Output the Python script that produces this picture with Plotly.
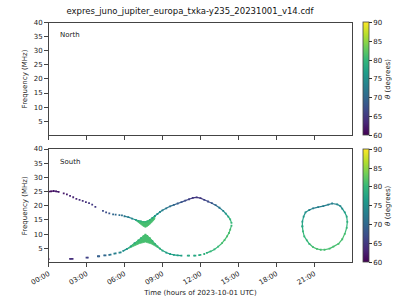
import plotly.graph_objects as go
from plotly.colors import sample_colorscale

TITLE = "expres_juno_jupiter_europa_txka-y235_20231001_v14.cdf"
XTICK_VALS = [0, 3, 6, 9, 12, 15, 18, 21]
XTICK_TEXT = ["00:00", "03:00", "06:00", "09:00", "12:00", "15:00", "18:00", "21:00"]
YTICK_VALS = [5, 10, 15, 20, 25, 30, 35, 40]
CB_TICKS = [60, 65, 70, 75, 80, 85, 90]
TH_MIN, TH_MAX = 60, 90

# South hemisphere emission (time in hours, frequency MHz, theta degrees)
# upper branch, continuous start
UP_A_T = [0.0, 0.2, 0.4, 0.6, 0.8]
UP_A_F = [25.0, 25.1, 25.2, 25.1, 24.9]
UP_A_TH = [61, 61, 62, 62, 62]
# upper branch, dotted part
UP_B_T = [1.2, 1.45, 1.7, 1.95, 2.2, 2.45, 2.7, 2.95, 3.2, 3.45, 3.7, 4.3, 4.55, 4.8, 5.1, 5.3, 5.6, 5.8]
UP_B_F = [24.4, 24.0, 23.5, 23.0, 22.4, 22.1, 21.7, 21.3, 20.9, 20.4, 19.6, 18.2, 17.7, 17.3, 17.0, 16.9, 16.7, 16.6]
UP_B_TH = [62, 62, 63, 63, 63, 64, 64, 64, 65, 65, 65, 67, 67, 68, 70, 70, 71, 71]
# upper branch, continuous part
UP_C_T = [6.0, 6.3, 6.6, 6.9, 7.1, 7.3, 7.5, 7.65, 7.8, 8.0, 8.2, 8.4, 8.6, 8.8, 9.0, 9.3, 9.6, 9.9,
          10.2, 10.5, 10.8, 11.1, 11.4, 11.7, 12.0, 12.3, 12.6, 12.9, 13.2, 13.5, 13.8, 14.0, 14.2, 14.35, 14.45]
UP_C_F = [16.3, 16.0, 15.5, 15.0, 14.7, 14.5, 14.3, 14.3, 14.5, 15.0, 15.7, 16.4, 17.1, 17.8, 18.4, 19.1, 19.8, 20.3,
          20.8, 21.3, 21.8, 22.3, 22.8, 22.95, 22.7, 22.1, 21.5, 20.9, 20.2, 19.3, 18.2, 17.2, 16.2, 15.2, 14.0]
UP_C_TH = [72, 73, 74, 76, 78, 79, 80, 80, 80, 79, 77, 76, 75, 74, 73, 72, 71, 70,
           69, 68, 67, 66, 65, 65, 65, 66, 67, 68, 70, 72, 74, 76, 78, 80, 80]
# lower edge of the upper pinch band
UP_BAND_T = [6.9, 7.2, 7.5, 7.65, 7.8, 8.1, 8.4]
UP_BAND_F = [14.8, 13.6, 12.7, 12.4, 12.7, 13.8, 15.3]
UP_BAND_TH = 81

# lower branch, dashed part
LO_A_T = [0.0, 1.7, 1.8, 1.9, 3.0, 3.1, 3.9, 4.0, 4.4, 4.5, 4.8, 4.9, 5.2, 5.3, 5.6, 5.7]
LO_A_F = [1.2, 1.3, 1.3, 1.3, 1.7, 1.7, 2.2, 2.2, 2.5, 2.5, 2.7, 2.8, 3.1, 3.2, 3.5, 3.6]
LO_A_TH = [61, 64, 64, 64, 66, 66, 69, 69, 70, 70, 71, 72, 73, 73, 74, 74]
# lower branch, continuous part
LO_B_T = [5.9, 6.2, 6.5, 6.8, 7.1, 7.3, 7.5, 7.65, 7.8, 8.0, 8.2, 8.4, 8.6, 8.8, 9.0, 9.3, 9.6, 9.9, 10.2, 10.5]
LO_B_F = [4.1, 4.8, 5.7, 6.8, 7.8, 8.6, 9.3, 9.8, 9.4, 8.6, 7.6, 6.6, 5.7, 4.9, 4.2, 3.5, 3.0, 2.7, 2.5, 2.4]
LO_B_TH = [75, 76, 77, 78, 79, 80, 81, 81, 81, 81, 80, 79, 79, 78, 78, 77, 77, 77, 77, 77]
# lower edge of the lower pinch band
LO_BAND_T = [6.3, 6.8, 7.2, 7.65, 8.1, 8.5, 8.9]
LO_BAND_F = [4.9, 5.9, 6.7, 7.2, 6.6, 5.6, 4.5]
LO_BAND_TH = 81
# lower branch, dashed part 2
LO_C_T = [11.0, 11.1, 11.5, 11.6, 11.9, 12.0, 12.3]
LO_C_F = [2.4, 2.4, 2.4, 2.4, 2.6, 2.7, 3.0]
LO_C_TH = [78, 78, 78, 78, 78, 79, 79]
# lower branch, continuous part 2
LO_D_T = [12.5, 12.8, 13.1, 13.4, 13.7, 13.9, 14.1, 14.25, 14.35, 14.45]
LO_D_F = [3.4, 3.9, 4.6, 5.6, 6.8, 7.9, 9.2, 10.4, 11.6, 13.0]
LO_D_TH = [79, 80, 80, 80, 81, 81, 81, 81, 81, 80]

# late loop
LOOP_T = [20.05, 20.1, 20.2, 20.4, 20.6, 20.9, 21.2, 21.5, 21.8, 22.2, 22.5, 22.9, 23.2, 23.4, 23.55,
          23.6, 23.55, 23.4, 23.2, 23.05, 22.8, 22.4, 22.1, 21.7, 21.3, 20.9, 20.6, 20.3, 20.15, 20.05, 20.05]
LOOP_F = [12.7, 11.0, 9.2, 7.8, 6.6, 5.4, 4.8, 4.5, 4.5, 4.9, 5.6, 6.6, 8.2, 10.1, 12.2,
          14.3, 16.2, 17.7, 19.0, 19.9, 20.5, 20.8, 20.4, 19.9, 19.5, 19.1, 18.5, 17.7, 16.2, 14.4, 12.7]
LOOP_TH = [78, 80, 80, 80, 80, 81, 81, 81, 81, 81, 81, 81, 81, 81, 80,
           79, 78, 77, 75, 74, 74, 73, 73, 73, 73, 73, 74, 75, 76, 77, 78]


def col(th):
    return sample_colorscale("Viridis", [(th - TH_MIN) / (TH_MAX - TH_MIN)])[0]


fig = go.Figure()

# continuous line segments, colored pairwise
for T, F, TH in [(UP_A_T, UP_A_F, UP_A_TH), (UP_C_T, UP_C_F, UP_C_TH), (LO_B_T, LO_B_F, LO_B_TH),
                 (LO_D_T, LO_D_F, LO_D_TH), (LOOP_T, LOOP_F, LOOP_TH)]:
    for i in range(len(T) - 1):
        fig.add_trace(go.Scatter(x=[T[i], T[i + 1]], y=[F[i], F[i + 1]], mode="lines",
                                 line=dict(color=col((TH[i] + TH[i + 1]) / 2), width=1.2),
                                 hoverinfo="skip", showlegend=False, xaxis="x", yaxis="y"))

# pinch bands as filled shapes between edges
for T, F, BT, BF, TH in [(UP_C_T, UP_C_F, UP_BAND_T, UP_BAND_F, UP_BAND_TH),
                         (LO_B_T, LO_B_F, LO_BAND_T, LO_BAND_F, LO_BAND_TH)]:
    lo, hi = BT[0], BT[-1]
    topx = [t for t in T if lo <= t <= hi]
    topy = [f for t, f in zip(T, F) if lo <= t <= hi]
    fig.add_trace(go.Scatter(x=topx + BT[::-1], y=topy + BF[::-1], mode="lines", fill="toself",
                             fillcolor=col(TH), line=dict(color=col(TH), width=0.8),
                             hoverinfo="skip", showlegend=False, xaxis="x", yaxis="y"))

# all points as markers colored by theta
ALL_T = UP_A_T + UP_B_T + UP_C_T + LO_A_T + LO_B_T + LO_C_T + LO_D_T + LOOP_T
ALL_F = UP_A_F + UP_B_F + UP_C_F + LO_A_F + LO_B_F + LO_C_F + LO_D_F + LOOP_F
ALL_TH = UP_A_TH + UP_B_TH + UP_C_TH + LO_A_TH + LO_B_TH + LO_C_TH + LO_D_TH + LOOP_TH

cb_common = dict(thickness=6, len=0.383, lenmode="fraction", x=0.902, xanchor="left",
                 xpad=0, ypad=0,
                 tickvals=CB_TICKS, ticks="outside", ticklen=3, tickcolor="#333",
                 tickfont=dict(size=7, color="#222"), outlinewidth=0.8, outlinecolor="#444",
                 title=dict(text="<i>θ</i> (degrees)", side="right", font=dict(size=7, color="#222")))

fig.add_trace(go.Scatter(x=ALL_T, y=ALL_F, mode="markers", xaxis="x", yaxis="y",
                         marker=dict(symbol="square", size=1.8, color=ALL_TH, colorscale="Viridis",
                                     cmin=TH_MIN, cmax=TH_MAX, line=dict(width=0), showscale=True,
                                     colorbar=dict(y=0.3183, yanchor="middle", **cb_common)),
                         showlegend=False, hoverinfo="skip"))

# North: no emission; colorbar only
fig.add_trace(go.Scatter(x=[None], y=[None], mode="markers", xaxis="x2", yaxis="y2",
                         marker=dict(color=[TH_MIN], colorscale="Viridis", cmin=TH_MIN, cmax=TH_MAX,
                                     showscale=True, colorbar=dict(y=0.7467, yanchor="middle", **cb_common)),
                         showlegend=False, hoverinfo="skip"))

axis_common = dict(showline=True, linecolor="#444", linewidth=1, mirror=True, ticks="outside",
                   ticklen=3.5, tickcolor="#444", tickfont=dict(size=7, color="#222"),
                   showgrid=False, zeroline=False)

fig.update_layout(
    width=400, height=300, margin=dict(l=0, r=0, t=0, b=0),
    paper_bgcolor="white", plot_bgcolor="white",
    font=dict(family="DejaVu Sans", size=7, color="#222"),
    title=dict(text=TITLE, x=0.475, xanchor="center", y=0.963, yanchor="middle",
               font=dict(size=8.5, color="#111")),
    xaxis=dict(domain=[0.0775, 0.875], anchor="y", range=[0, 24], tickvals=XTICK_VALS,
               ticktext=XTICK_TEXT, tickangle=-30,
               title=dict(text="Time (hours of 2023-10-01 UTC)", font=dict(size=7), standoff=4),
               **axis_common),
    yaxis=dict(domain=[0.1267, 0.51], anchor="x", range=[0, 40], tickvals=YTICK_VALS,
               title=dict(text="Frequency (MHz)", font=dict(size=7), standoff=5), **axis_common),
    xaxis2=dict(domain=[0.0775, 0.875], anchor="y2", range=[0, 24], tickvals=XTICK_VALS,
                showticklabels=False, **axis_common),
    yaxis2=dict(domain=[0.5567, 0.9367], anchor="x2", range=[0, 40], tickvals=YTICK_VALS,
                title=dict(text="Frequency (MHz)", font=dict(size=7), standoff=5), **axis_common),
    annotations=[
        dict(text="North", x=0.03, y=0.94, xref="x2 domain", yref="y2 domain", showarrow=False,
             xanchor="left", yanchor="top", font=dict(size=7, color="#222")),
        dict(text="South", x=0.03, y=0.94, xref="x domain", yref="y domain", showarrow=False,
             xanchor="left", yanchor="top", font=dict(size=7, color="#222")),
    ],
)

fig.write_html("out.html")
